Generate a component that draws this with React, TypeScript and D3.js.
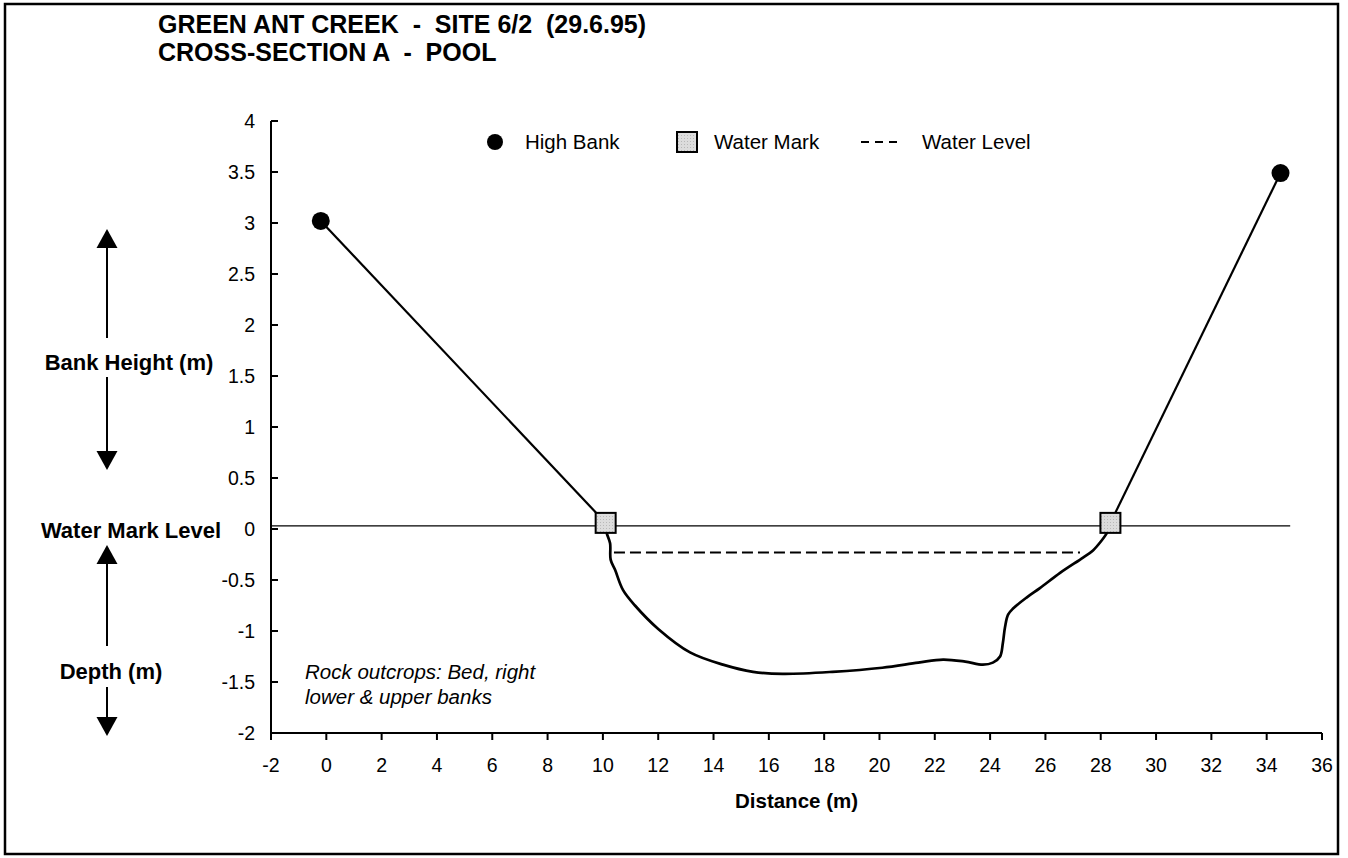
import React from 'react';
import * as d3 from 'd3';

// ---- Data ----
const xTickValues = [-2, 0, 2, 4, 6, 8, 10, 12, 14, 16, 18, 20, 22, 24, 26, 28, 30, 32, 34, 36];
const yTickValues = [-2, -1.5, -1, -0.5, 0, 0.5, 1, 1.5, 2, 2.5, 3, 3.5, 4];

const highBankX = [-0.2, 34.5];
const highBankY = [3.02, 3.49];

const waterMarkX = [10.1, 28.35];
const waterMarkY = [0.06, 0.06];

const leftBankX = [-0.2, 10.1];
const leftBankY = [3.02, 0.06];
const rightBankX = [28.35, 34.5];
const rightBankY = [0.06, 3.49];

const waterLevelX = [10.4, 27.25];
const waterLevelY = [-0.23, -0.23];

const markLineX = [-2, 34.85];
const markLineY = [0.03, 0.03];

const bedX = [10.1, 10.14, 10.26, 10.28, 10.44, 10.73, 11.16, 12.0, 13.15, 14.34, 15.43, 16.5, 18.3, 20.1, 21.4, 22.3, 23.1, 23.74, 24.1, 24.36, 24.46, 24.54, 24.65, 24.83, 25.33, 25.8, 26.53, 27.36, 27.72, 28.04, 28.22, 28.35];
const bedY = [0.04, -0.04, -0.14, -0.3, -0.4, -0.6, -0.75, -0.98, -1.21, -1.33, -1.4, -1.42, -1.4, -1.36, -1.31, -1.28, -1.3, -1.33, -1.31, -1.25, -1.12, -0.96, -0.84, -0.78, -0.67, -0.58, -0.43, -0.28, -0.21, -0.11, -0.04, 0.03];

const titleLines = ['GREEN ANT CREEK  -  SITE 6/2  (29.6.95)', 'CROSS-SECTION A  -  POOL'];
const noteLines = ['Rock outcrops: Bed, right', 'lower & upper banks'];

const FONT = '"Liberation Sans", Arial, Helvetica, sans-serif';

const zip = (xs: number[], ys: number[]) => xs.map((v, i) => [v, ys[i]] as [number, number]);

export default function App() {
  const W = 1348, H = 858;
  const x = d3.scaleLinear().domain([-2, 36]).range([271, 1322]);
  const y = d3.scaleLinear().domain([-2, 4]).range([733, 121]);
  const line = d3.line<[number, number]>().x(d => x(d[0])).y(d => y(d[1]));
  const smooth = d3.line<[number, number]>().x(d => x(d[0])).y(d => y(d[1])).curve(d3.curveCatmullRom.alpha(0.5));

  const x0 = x(-2), y0 = y(-2), yTop = y(4), xEnd = x(36);

  const arrowX = 107;
  const upHead = (tip: number) => `M${arrowX},${tip} L${arrowX - 10.5},${tip + 19} L${arrowX + 10.5},${tip + 19} Z`;
  const downHead = (tip: number) => `M${arrowX},${tip} L${arrowX - 10.5},${tip - 19} L${arrowX + 10.5},${tip - 19} Z`;

  const legY = 142;

  return (
    <svg width={W} height={H} style={{ position: 'absolute', left: 0, top: 0, background: '#fff' }} fontFamily={FONT}>
      <defs>
        <pattern id="dots" width="3" height="3" patternUnits="userSpaceOnUse">
          <rect width="3" height="3" fill="#dcdcdc" />
          <rect width="1" height="1" fill="#b8b8b8" />
        </pattern>
      </defs>
      <rect x={0} y={0} width={W} height={H} fill="#fff" />
      <rect x={5} y={4} width={1333} height={850} fill="none" stroke="#000" strokeWidth={2.5} />

      {/* Title */}
      {titleLines.map((t, i) => (
        <text key={t} x={158} y={33 + i * 28} fontSize={25} fontWeight="bold" style={{ whiteSpace: 'pre' }}>{t}</text>
      ))}

      {/* Reference (water mark) line */}
      <path d={line(zip(markLineX, markLineY)) || ''} fill="none" stroke="#000" strokeWidth={1.2} />

      {/* Axes */}
      <line x1={x0} y1={yTop} x2={x0} y2={y0} stroke="#000" strokeWidth={2} />
      <line x1={x0} y1={y0} x2={xEnd} y2={y0} stroke="#000" strokeWidth={2} />
      {yTickValues.map(v => (
        <g key={'y' + v}>
          <line x1={x0} x2={x0 + 7} y1={y(v)} y2={y(v)} stroke="#000" strokeWidth={2} />
          <text x={255} y={y(v) + 7} fontSize={19.5} textAnchor="end">{String(v)}</text>
        </g>
      ))}
      {xTickValues.map(v => (
        <g key={'x' + v}>
          <line x1={x(v)} x2={x(v)} y1={y0} y2={y0 + 7} stroke="#000" strokeWidth={2} />
          <text x={x(v)} y={772} fontSize={19.5} textAnchor="middle">{String(v)}</text>
        </g>
      ))}
      <text x={(x0 + xEnd) / 2} y={808} fontSize={20.5} fontWeight="bold" textAnchor="middle">Distance (m)</text>

      {/* Left side annotations */}
      <text x={129} y={370} fontSize={22} fontWeight="bold" textAnchor="middle">Bank Height (m)</text>
      <text x={131} y={538} fontSize={22} fontWeight="bold" textAnchor="middle">Water Mark Level</text>
      <text x={111} y={679} fontSize={22} fontWeight="bold" textAnchor="middle">Depth (m)</text>
      <g stroke="#000" strokeWidth={2}>
        <line x1={arrowX} x2={arrowX} y1={246} y2={338} />
        <line x1={arrowX} x2={arrowX} y1={377} y2={452} />
        <line x1={arrowX} x2={arrowX} y1={562} y2={646} />
        <line x1={arrowX} x2={arrowX} y1={687} y2={718} />
      </g>
      <path d={upHead(229)} fill="#000" />
      <path d={downHead(470)} fill="#000" />
      <path d={upHead(545)} fill="#000" />
      <path d={downHead(736)} fill="#000" />

      {/* Note */}
      {noteLines.map((t, i) => (
        <text key={t} x={305} y={679 + i * 25} fontSize={20.5} fontStyle="italic">{t}</text>
      ))}

      {/* Water level */}
      <path d={line(zip(waterLevelX, waterLevelY)) || ''} fill="none" stroke="#000" strokeWidth={2} strokeDasharray="11,5" />

      {/* Banks */}
      <path d={line(zip(leftBankX, leftBankY)) || ''} fill="none" stroke="#000" strokeWidth={2.2} />
      <path d={line(zip(rightBankX, rightBankY)) || ''} fill="none" stroke="#000" strokeWidth={2.2} />

      {/* Bed profile */}
      <path d={smooth(zip(bedX, bedY)) || ''} fill="none" stroke="#000" strokeWidth={2.7} strokeLinejoin="round" />

      {/* Markers */}
      {zip(highBankX, highBankY).map((d, i) => (
        <circle key={'hb' + i} cx={x(d[0])} cy={y(d[1])} r={9} fill="#000" />
      ))}
      {zip(waterMarkX, waterMarkY).map((d, i) => (
        <rect key={'wm' + i} x={x(d[0]) - 10} y={y(d[1]) - 10} width={20} height={20} fill="url(#dots)" stroke="#000" strokeWidth={2} />
      ))}

      {/* Legend */}
      <circle cx={495} cy={legY} r={8} fill="#000" />
      <text x={525} y={legY + 7} fontSize={20.5}>High Bank</text>
      <rect x={677} y={legY - 10} width={20} height={20} fill="url(#dots)" stroke="#000" strokeWidth={2} />
      <text x={714} y={legY + 7} fontSize={20.5}>Water Mark</text>
      <line x1={861} x2={897} y1={legY} y2={legY} stroke="#000" strokeWidth={2} strokeDasharray="8,6" />
      <text x={922} y={legY + 7} fontSize={20.5}>Water Level</text>
    </svg>
  );
}
